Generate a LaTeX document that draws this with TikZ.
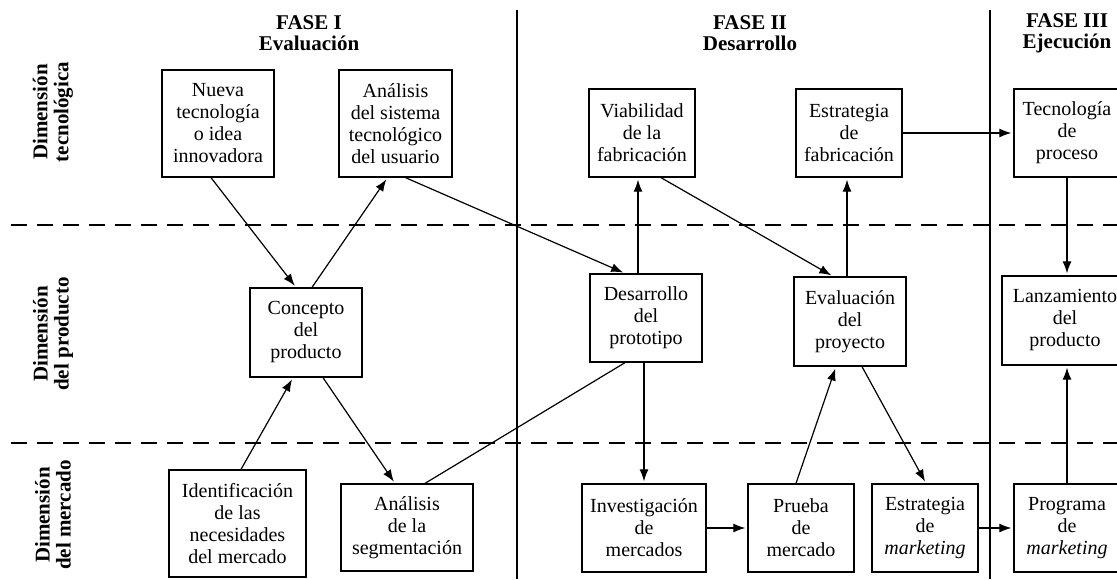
\documentclass[tikz,border=0pt]{standalone}
\usepackage{fontspec}
\setmainfont{Liberation Serif}
\usetikzlibrary{arrows.meta}
\begin{document}
\begin{tikzpicture}[x=1pt,y=-1pt,
  box/.style={draw, line width=1.3pt, align=center, inner sep=0pt, font=\fontsize{20}{22}\selectfont},
  hdr/.style={align=center, font=\bfseries\fontsize{21}{21}\selectfont},
  dim/.style={align=center, rotate=90, font=\bfseries\fontsize{21}{21}\selectfont},
  conn/.style={line width=1.2pt},
  arr/.style={conn, -{Latex[length=12pt,width=9pt]}, shorten >=2pt},
  sepline/.style={line width=1.4pt},
  dsep/.style={line width=2.2pt, dash pattern=on 16pt off 10pt}]
\clip (0,0) rectangle (1117,579);
\fill[white] (0,0) rectangle (1117,579);

% separators
\draw[sepline] (517,10) -- (517,579);
\draw[sepline] (990,10) -- (990,579);
\draw[dsep] (11,225) -- (1117,225);
\draw[dsep] (11,443) -- (1117,443);

% headers
\node[hdr] (f1) at (309,33) {FASE I\\Evaluación};
\node[hdr] (f2) at (750,33) {FASE II\\Desarrollo};
\node[hdr] (f3) at (1067,33) {FASE III\\Ejecución};

% dimension labels
\node[dim] (d1) at (53,112) {Dimensión\\tecnológica};
\node[dim] (d2) at (53,334) {Dimensión\\del producto};
\node[dim] (d3) at (53,515) {Dimensión\\del mercado};

% boxes
\node[box, minimum width=112pt, minimum height=107pt] (nueva) at (218,123.5) {Nueva\\tecnología\\o idea\\innovadora};
\node[box, minimum width=113pt, minimum height=107pt] (analisis) at (395.5,123.5) {Análisis\\del sistema\\tecnológico\\del usuario};
\node[box, minimum width=106pt, minimum height=88pt] (viab) at (642,133) {Viabilidad\\de la\\fabricación};
\node[box, minimum width=106pt, minimum height=88pt] (estfab) at (849,133) {Estrategia\\de\\fabricación};
\node[box, minimum width=106pt, minimum height=88pt] (tecno) at (1067,133) {Tecnología\\de\\proceso};

\node[box, minimum width=112pt, minimum height=89pt] (concepto) at (306,332.5) {Concepto\\del\\producto};
\node[box, minimum width=112pt, minimum height=88pt] (desarrollo) at (646,318) {Desarrollo\\del\\prototipo};
\node[box, minimum width=112pt, minimum height=89pt] (evaluacion) at (850,321.5) {Evaluación\\del\\proyecto};
\node[box, minimum width=126pt, minimum height=89pt] (lanz) at (1065,320.5) {Lanzamiento\\del\\producto};

\node[box, minimum width=137pt, minimum height=107pt] (ident) at (237.5,523.5) {Identificación\\de las\\necesidades\\del mercado};
\node[box, minimum width=132pt, minimum height=87pt] (analseg) at (407,527.5) {Análisis\\de la\\segmentación};
\node[box, minimum width=124pt, minimum height=88pt] (invest) at (644,528) {Investigación\\de\\mercados};
\node[box, minimum width=106pt, minimum height=88pt] (prueba) at (801,528) {Prueba\\de\\mercado};
\node[box, minimum width=106pt, minimum height=88pt] (estmkt) at (925,528) {Estrategia\\de\\\textit{marketing}};
\node[box, minimum width=106pt, minimum height=88pt] (programa) at (1067,528) {Programa\\de\\\textit{marketing}};

% connectors
\draw[arr] ([xshift=-7pt]nueva.south) -- ([xshift=-10pt]concepto.north);
\draw[arr] ([xshift=6pt]concepto.north) -- ([xshift=-8pt]analisis.south);
\draw[arr] ([xshift=10pt]analisis.south) -- ([xshift=-21pt]desarrollo.north);
\draw[arr] ([xshift=-8pt]desarrollo.north) -- ([xshift=-4pt]viab.south);
\draw[arr] ([xshift=19pt]viab.south) -- ([xshift=-17pt]evaluacion.north);
\draw[arr] ([xshift=-3pt]evaluacion.north) -- ([xshift=-2pt]estfab.south);
\draw[arr] (estfab.east) -- (tecno.west);
\draw[arr] (tecno.south) -- ([xshift=2pt]lanz.north);
\draw[arr] ([xshift=3.5pt]ident.north) -- ([xshift=-13pt]concepto.south);
\draw[arr] ([xshift=17pt]concepto.south) -- ([xshift=-12pt]analseg.north);
\draw[conn] ([xshift=18pt]analseg.north) -- ([xshift=-21pt]desarrollo.south);
\draw[arr] ([xshift=-2pt]desarrollo.south) -- (invest.north);
\draw[arr] (invest.east) -- (prueba.west);
\draw[arr] ([xshift=-5pt]prueba.north) -- ([xshift=-14pt]evaluacion.south);
\draw[arr] ([xshift=12pt]evaluacion.south) -- ([xshift=1pt]estmkt.north);
\draw[arr] (estmkt.east) -- (programa.west);
\draw[arr] (programa.north) -- ([xshift=2pt]lanz.south);
\end{tikzpicture}
\end{document}
